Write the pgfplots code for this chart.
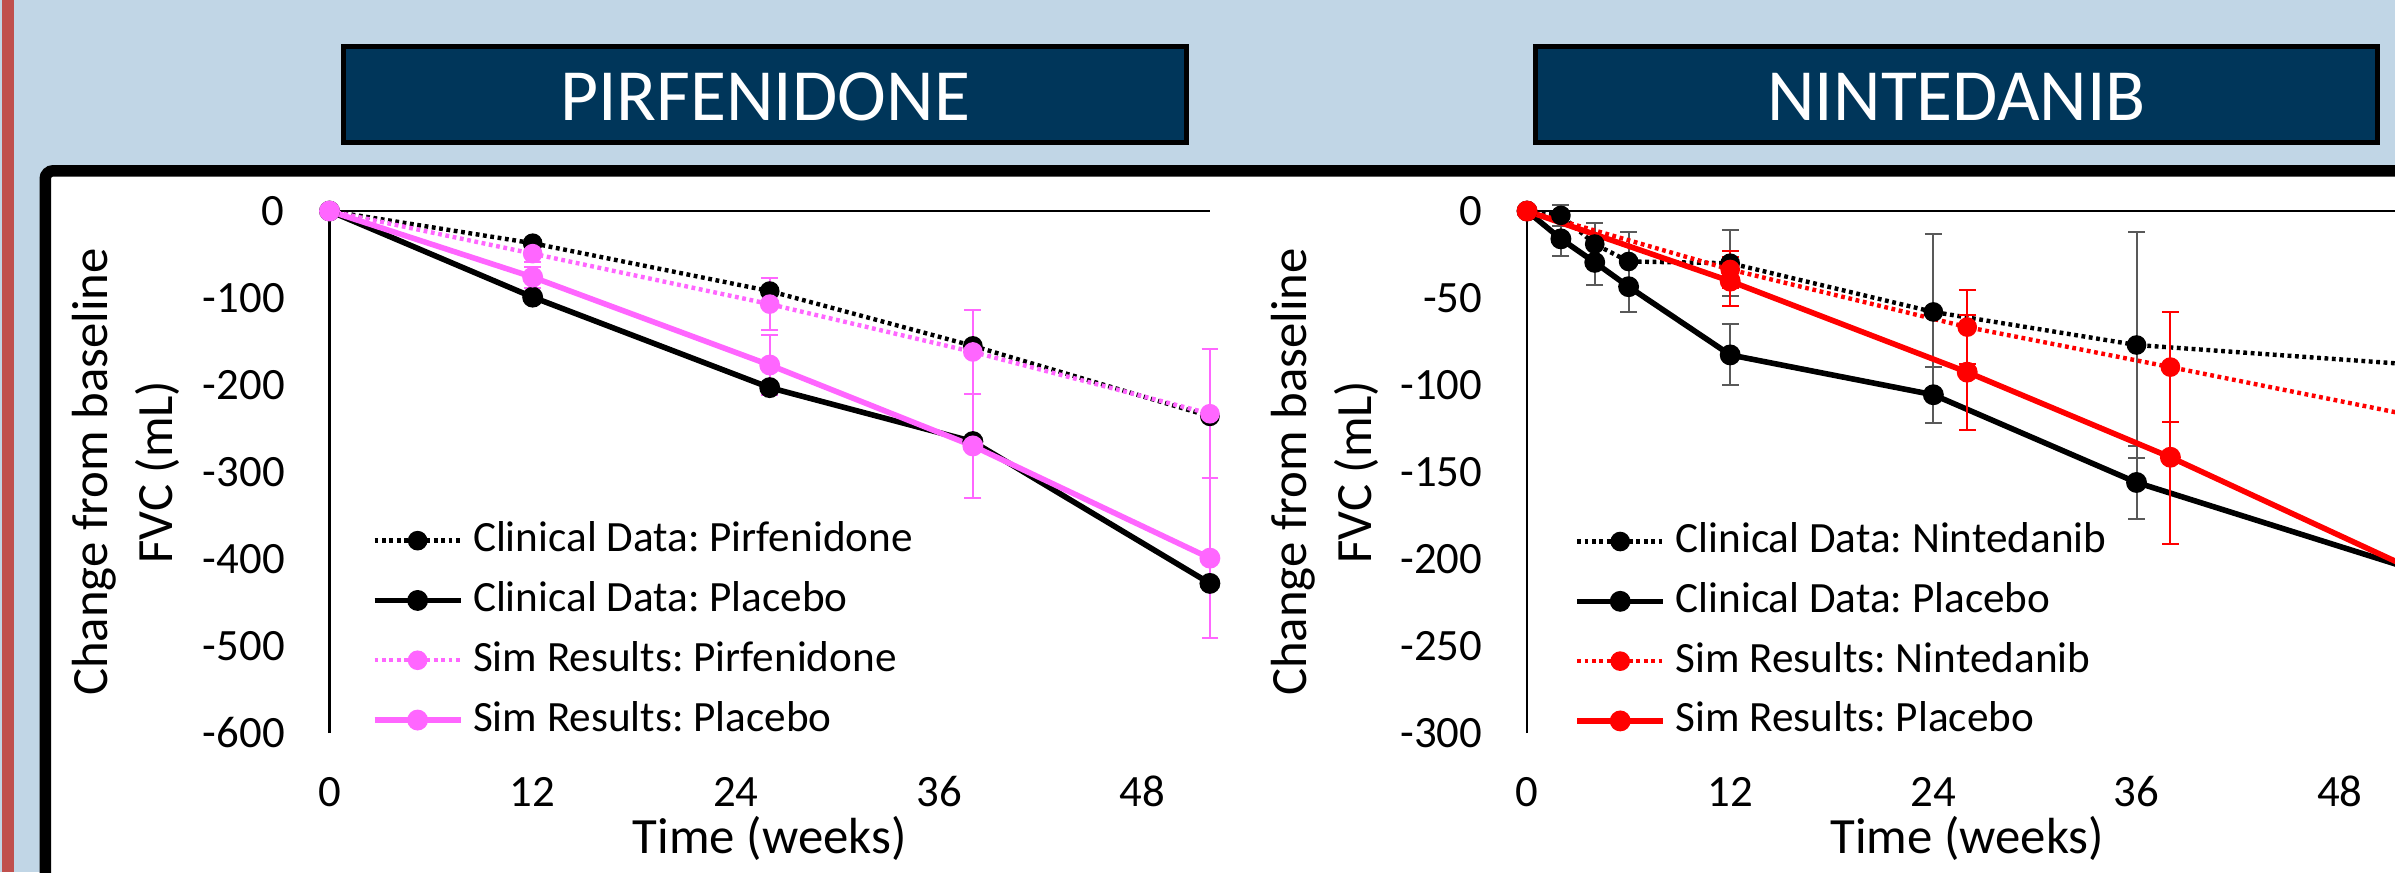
\documentclass[border=0pt]{standalone}
\usepackage{pgfplots}
\pgfplotsset{compat=1.18}
\usepackage{fontspec}
\setmainfont{Carlito}
\frenchspacing
\definecolor{bgblue}{RGB}{193,214,230}
\definecolor{stripred}{RGB}{192,80,77}
\definecolor{navy}{RGB}{0,54,90}
\definecolor{simpink}{RGB}{255,102,255}
\definecolor{simred}{RGB}{255,0,0}
\definecolor{errgrey}{RGB}{89,89,89}

\pgfplotsset{
  panel/.style={
    scale only axis, width=220.1pt, height=130.5pt,
    xmin=0, xmax=52, ymax=0,
    axis x line*=top, axis y line*=left,
    axis line style={-, line width=0.6pt, black},
    major tick length=0pt,
    xtick={0,12,24,36,48},
    /pgf/number format/assume math mode=true,
    tick label style={font=\fontsize{11.2}{13}\selectfont},
    yticklabel style={anchor=east, inner sep=0pt, xshift=-11pt},
    xticklabel style={anchor=base, inner sep=0pt, yshift=-148.75pt},
    label style={font=\fontsize{12.7}{16.25}\selectfont},
    xlabel={Time (weeks)},
    xlabel style={at={(axis description cs:0.5,0)}, anchor=base, yshift=-30pt},
    ylabel={Change from baseline\\FVC (mL)},
    ylabel style={align=center, anchor=center},
    clip=false,
    legend cell align=left,
    legend style={draw=none, fill=none, inner sep=0pt, outer sep=0pt,
      font=\fontsize{10.8}{13}\selectfont,
      nodes={inner sep=0pt, text height=7.5pt, text depth=2pt},
      row sep=5.45pt,
      /tikz/every odd column/.append style={column sep=2.4pt}},
    legend image code/.code={\draw[mark repeat=2,mark phase=2,#1] plot coordinates {(0pt,0pt) (10.75pt,0pt) (21.5pt,0pt)};},
  },
  dotline/.style={line width=1.1pt, dash pattern=on 0.95pt off 0.9pt, mark=*, mark size=1.9pt},
  solline/.style={line width=1.4pt, mark=*, mark size=1.9pt},
}

\begin{document}
\begin{tikzpicture}
\useasboundingbox (0,0) rectangle (598.75pt,-218pt);
\clip (0,0) rectangle (598.75pt,-218pt);
\begin{scope}[x=0.25pt,y=-0.25pt]
  \fill[bgblue] (0,0) rectangle (2395,872);
  \fill[stripred] (1.5,0) rectangle (14,872);
  \draw[line width=2.875pt, fill=white, rounded corners=2pt] (45.25,170.75) rectangle (2700,1100);
  \draw[line width=1.25pt, fill=navy] (343.2,46.8) rectangle (1186.5,142.8);
  \draw[line width=1.25pt, fill=navy] (1535.5,46.8) rectangle (2377.5,142.8);
  \node[text=white, inner sep=0pt, font=\fontsize{18.4}{22}\selectfont] at (765,96.5) {PIRFENIDONE};
  \node[text=white, inner sep=0pt, font=\fontsize{18.4}{22}\selectfont] at (1956.5,96.5) {NINTEDANIB};
\end{scope}

% ---------------- Pirfenidone panel ----------------
\begin{axis}[panel,
  at={(82.375pt,-183.25pt)}, anchor=south west,
  ymin=-600, ytick={0,-100,-200,-300,-400,-500,-600},
  ylabel style={at={(axis description cs:-0.2313,0.5)}},
  legend style={at={(axis cs:2.5,-482)}, anchor=west},
]
\addplot[black, dotline, mark options={solid, fill=black}] table {
x y
0 0
12 -37
26 -92
38 -155
52 -236
};
\addlegendentry{Clinical Data: Pirfenidone}
\addplot[black, solline, mark options={solid, fill=black}] table {
x y
0 0
12 -99
26 -203
38 -265
52 -428
};
\addlegendentry{Clinical Data: Placebo}
\addplot[simpink, dotline, mark options={solid, fill=simpink},
  error bars/.cd, y dir=both, y explicit,
  error bar style={solid, line width=0.5pt, simpink},
  error mark options={solid, rotate=90, mark size=2.1pt, line width=0.5pt, simpink}]
  table[x=x, y=y, y error=e] {
x y e
0 0 0
12 -49 10
26 -107 30
38 -162 48
52 -233 74
};
\addlegendentry{Sim Results: Pirfenidone}
\addplot[simpink, solline, mark options={solid, fill=simpink},
  error bars/.cd, y dir=both, y explicit,
  error bar style={solid, line width=0.5pt, simpink},
  error mark options={solid, rotate=90, mark size=2.1pt, line width=0.5pt, simpink}]
  table[x=x, y=y, y error=e] {
x y e
0 0 0
12 -76 12
26 -177 34
38 -270 60
52 -399 92
};
\addlegendentry{Sim Results: Placebo}
\end{axis}

% ---------------- Nintedanib panel ----------------
\begin{axis}[panel,
  at={(381.75pt,-183.25pt)}, anchor=south west,
  ymin=-300, ytick={0,-50,-100,-150,-200,-250,-300},
  ylabel style={at={(axis description cs:-0.23,0.5)}},
  legend style={at={(axis cs:2.8,-241.5)}, anchor=west},
]
\addplot[black, dotline, mark options={solid, fill=black},
  error bars/.cd, y dir=both, y explicit,
  error bar style={solid, line width=0.5pt, errgrey},
  error mark options={solid, rotate=90, mark size=2.1pt, line width=0.5pt, errgrey}]
  table[x=x, y=y, y error=e] {
x y e
0 0 0
2 -2.5 6
4 -19 12
6 -29 17
12 -30 19
24 -58 45
36 -77 65
52 -88 70
};
\addlegendentry{Clinical Data: Nintedanib}
\addplot[black, solline, mark options={solid, fill=black},
  error bars/.cd, y dir=both, y explicit,
  error bar style={solid, line width=0.5pt, errgrey},
  error mark options={solid, rotate=90, mark size=2.1pt, line width=0.5pt, errgrey}]
  table[x=x, y=y, y error=e] {
x y e
0 0 0
2 -16 10
4 -29.5 12.8
6 -43.5 14.4
12 -82.7 17.5
24 -105.6 16
36 -156 21
52 -205 25
};
\addlegendentry{Clinical Data: Placebo}
\addplot[simred, dotline, mark options={solid, fill=simred},
  error bars/.cd, y dir=both, y explicit,
  error bar style={solid, line width=0.5pt, simred},
  error mark options={solid, rotate=90, mark size=2.1pt, line width=0.5pt, simred}]
  table[x=x, y=y, y error=e] {
x y e
0 0 0
12 -33.6 10.6
26 -66.7 21.5
38 -89.7 31.7
52 -117 40
};
\addlegendentry{Sim Results: Nintedanib}
\addplot[simred, solline, mark options={solid, fill=simred},
  error bars/.cd, y dir=both, y explicit,
  error bar style={solid, line width=0.5pt, simred},
  error mark options={solid, rotate=90, mark size=2.1pt, line width=0.5pt, simred}]
  table[x=x, y=y, y error=e] {
x y e
0 0 0
12 -40.3 14
26 -92.6 33
38 -141.5 50
52 -204.5 60
};
\addlegendentry{Sim Results: Placebo}
\end{axis}
\end{tikzpicture}
\end{document}
